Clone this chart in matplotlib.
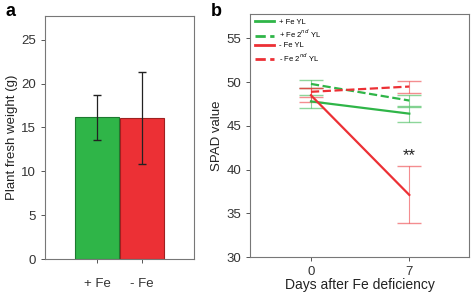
import matplotlib
matplotlib.use('Agg')
import matplotlib.pyplot as plt

plt.rcParams['font.family'] = ['Liberation Sans', 'DejaVu Sans']

# panel a: plant fresh weight
grupos = ['+ Fe', '- Fe']
peso = [16.2, 16.05]
peso_sup = [18.7, 21.3]
peso_inf = [13.6, 10.8]

# panel b: SPAD value at day 0 and 7
dias = [0, 7]
series = ['+ Fe YL', '+ Fe 2$^{nd}$ YL', '- Fe YL', '- Fe 2$^{nd}$ YL']
spad = [[47.8, 46.4], [49.8, 47.9], [48.5, 37.1], [48.9, 49.5]]
spad_inf = [[47.1, 45.5], [49.3, 47.3], [47.7, 33.9], [48.3, 48.8]]
spad_sup = [[48.5, 47.2], [50.3, 48.5], [49.3, 40.4], [49.3, 50.1]]

verde = '#2fb548'
vermelho = '#ec3035'
cores = [verde, verde, vermelho, vermelho]
estilos = ['-', '--', '-', '--']

fig = plt.figure(figsize=(4.72, 2.94), dpi=100)
cinza = '#555555'

# ---- a
ax1 = fig.add_axes([45 / 472, 1 - 259 / 294, 149 / 472, 243 / 294])
x = range(len(grupos))
err = [[p - i for p, i in zip(peso, peso_inf)], [s - p for p, s in zip(peso, peso_sup)]]
ax1.bar(x, peso, width=0.99, color=[verde, vermelho],
        edgecolor=['#1d7a30', '#a02020'], linewidth=0.8)
ax1.errorbar(x, peso, yerr=err, fmt='none', ecolor='#222222',
             elinewidth=0.9, capsize=3)
ax1.set_xlim(-1.16, 2.16)
ax1.set_ylim(0, 27.7)
ax1.set_xticks(list(x))
ax1.set_xticklabels(grupos)
ax1.set_yticks(range(0, 26, 5))
ax1.set_ylabel('Plant fresh weight (g)', fontsize=9.5, color='#222222', labelpad=2)

# ---- b
ax2 = fig.add_axes([250 / 472, 1 - 257 / 294, 219 / 472, 243 / 294])
for k in range(len(series)):
    ax2.plot(dias, spad[k], color=cores[k], linestyle=estilos[k], lw=1.6,
             label=series[k], zorder=3)
    e = [[v - i for v, i in zip(spad[k], spad_inf[k])],
         [s - v for v, s in zip(spad[k], spad_sup[k])]]
    ax2.errorbar(dias, spad[k], yerr=e, fmt='none', ecolor=cores[k],
                 alpha=0.55, elinewidth=0.8, capsize=8.5, zorder=2)
ax2.text(7, 40.7, '**', ha='center', va='bottom', fontsize=12, color='#222222')
ax2.set_xlim(-4.34, 11.25)
ax2.set_ylim(30, 57.8)
ax2.set_xticks(dias)
ax2.set_yticks(range(30, 56, 5))
ax2.set_ylabel('SPAD value', fontsize=9.5, color='#222222', labelpad=2)
ax2.set_xlabel('Days after Fe deficiency', fontsize=10, color='#222222', labelpad=0)
leg = ax2.legend(loc='upper left', fontsize=5.5, frameon=False, handlelength=2.6,
                 borderaxespad=0.2, labelspacing=0.25, handletextpad=0.6)
for h in leg.get_lines():
    h.set_linewidth(2)

for ax in (ax1, ax2):
    for s in ax.spines.values():
        s.set_color('#777777')
        s.set_linewidth(0.8)
    ax.tick_params(labelsize=9.5, colors=cinza, length=3, width=0.7)
    ax.tick_params(labelcolor='#333333')
ax1.tick_params(axis='x', pad=11)

fig.text(5 / 472, 1 - 12 / 294, 'a', fontsize=13, fontweight='bold', va='center')
fig.text(211 / 472, 1 - 12 / 294, 'b', fontsize=13, fontweight='bold', va='center')

fig.savefig('out.png', dpi=100)
